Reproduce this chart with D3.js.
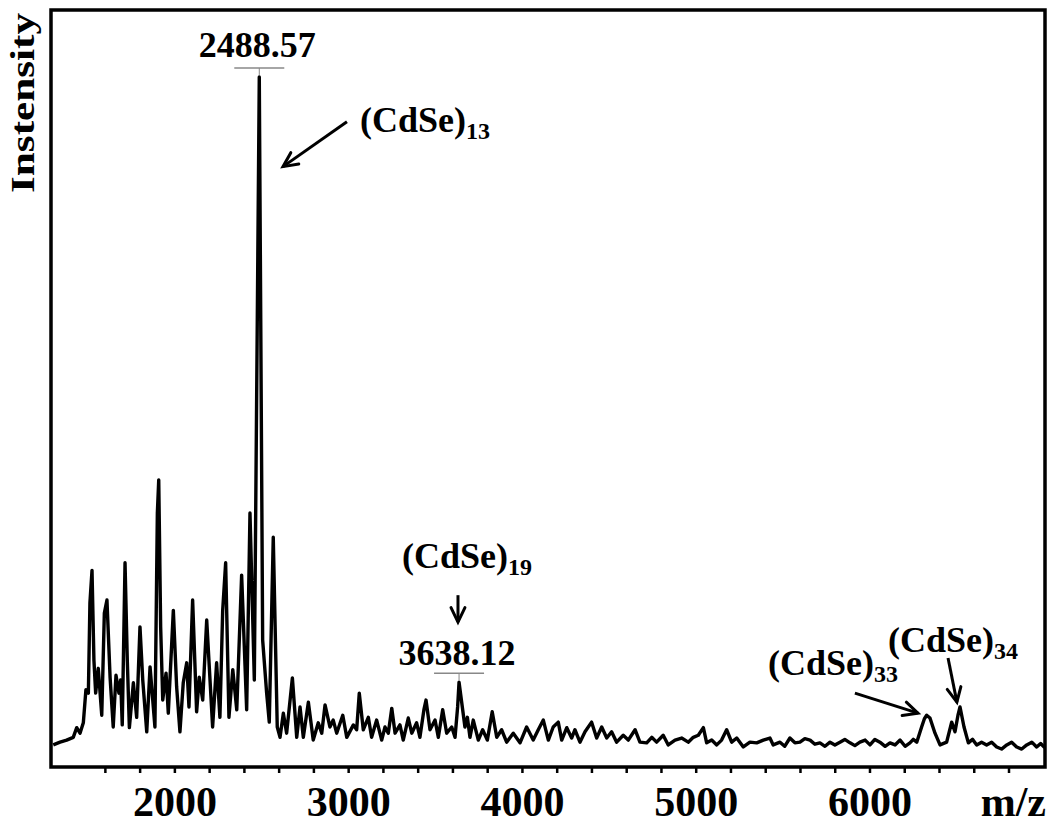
<!DOCTYPE html>
<html>
<head>
<meta charset="utf-8">
<script src="https://cdn.jsdelivr.net/npm/d3@7"></script>
<style>
  body { margin: 0; background: #fff; }
  svg { display: block; font-family: "Liberation Serif", "Times New Roman", serif; font-weight: bold; }
</style>
</head>
<body>
<svg id="chart" width="1050" height="824"></svg>
<script>
// m/z values
const mzValues = [
  1303, 1342, 1380, 1418, 1438, 1457, 1476, 1491, 1505, 1514, 1526, 1537, 1547, 1562, 1582, 1597,
  1612, 1630, 1648, 1664, 1681, 1691, 1700, 1716, 1729, 1741, 1764, 1783, 1802, 1818, 1841, 1860,
  1888, 1902, 1910, 1921, 1933, 1952, 1965, 1994, 2013, 2032, 2051, 2071, 2084, 2105, 2128, 2143,
  2163, 2186, 2220, 2243, 2262, 2278, 2295, 2314, 2336, 2359, 2387, 2416, 2435, 2460, 2488.57, 2508,
  2531, 2546, 2569, 2592, 2608, 2627, 2646, 2679, 2704, 2723, 2742, 2771, 2799, 2828, 2848, 2867,
  2895, 2914, 2934, 2969, 2992, 3030, 3049, 3064, 3087, 3116, 3135, 3164, 3193, 3212, 3231, 3251,
  3270, 3298, 3317, 3346, 3366, 3394, 3413, 3436, 3448, 3471, 3500, 3519, 3544, 3567, 3596, 3615,
  3630, 3638.12, 3659, 3672, 3686, 3701, 3720, 3749, 3774, 3801, 3829, 3855, 3883, 3912, 3950, 3989,
  4027, 4065, 4094, 4123, 4152, 4180, 4209, 4229, 4258, 4286, 4305, 4334, 4363, 4401, 4430, 4459,
  4488, 4516, 4545, 4583, 4612, 4651, 4679, 4718, 4747, 4775, 4813, 4842, 4881, 4919, 4957, 4986,
  5015, 5044, 5063, 5092, 5121, 5149, 5178, 5207, 5236, 5274, 5312, 5351, 5389, 5427, 5446, 5485,
  5512, 5542, 5571, 5600, 5628, 5658, 5686, 5715, 5744, 5773, 5801, 5830, 5858, 5888, 5916, 5945,
  5975, 6003, 6031, 6060, 6090, 6118, 6147, 6176, 6205, 6233, 6252, 6272, 6300, 6316, 6329, 6348, 6377,
  6406, 6444, 6473, 6492, 6510, 6521, 6544, 6569, 6593, 6617, 6645, 6674, 6703, 6732, 6760, 6790, 6818,
  6847, 6876, 6905, 6934, 6962, 6985, 7008
];
// relative intensity (%), main peak = 100
const intensityValues = [
  3.2, 3.6, 3.9, 4.3, 5.7, 4.9, 6.4, 11.2, 10.7, 23.8, 28.5, 15.5, 10.7, 14.3, 7.5, 22.3,
  24.2, 13.0, 5.8, 13.3, 10.7, 12.6, 6.1, 29.6, 15.5, 5.7, 12.2, 7.2, 20.3, 12.6, 5.1, 14.5,
  5.8, 36.8, 41.6, 20.3, 9.7, 13.6, 7.8, 22.7, 11.6, 5.1, 12.2, 15.1, 8.7, 24.2, 8.0, 13.0,
  9.7, 21.3, 5.8, 15.1, 7.2, 22.7, 29.6, 7.2, 14.1, 8.3, 27.8, 8.3, 36.8, 12.6, 100, 18.4,
  10.7, 6.5, 33.3, 5.8, 4.3, 7.8, 4.9, 12.9, 4.3, 8.7, 4.3, 9.4, 3.9, 6.4, 4.9, 9.0,
  5.8, 6.8, 4.9, 7.5, 4.3, 6.1, 5.4, 10.7, 5.4, 7.2, 4.3, 6.8, 3.9, 5.8, 4.9, 8.5,
  4.9, 6.1, 3.9, 7.1, 4.9, 6.4, 4.3, 8.3, 9.7, 5.4, 6.8, 4.3, 8.3, 4.9, 5.8, 4.3,
  8.7, 12.3, 8.3, 5.8, 7.2, 4.3, 6.8, 3.9, 5.4, 3.9, 8.0, 4.3, 5.4, 3.6, 4.9, 3.5,
  5.8, 3.9, 5.4, 6.8, 3.9, 5.8, 6.5, 3.9, 5.7, 4.2, 5.4, 3.6, 5.1, 6.5, 4.2, 5.8,
  4.2, 5.1, 3.6, 4.6, 3.9, 5.4, 3.6, 3.5, 4.3, 3.6, 4.6, 3.2, 3.9, 4.2, 3.6, 4.3,
  4.6, 5.7, 3.5, 3.9, 3.2, 3.9, 5.4, 3.6, 4.2, 2.9, 3.6, 3.5, 3.9, 4.2, 3.2, 3.6,
  3.0, 4.2, 3.5, 3.6, 4.1, 3.9, 3.3, 3.5, 3.0, 3.6, 3.2, 3.6, 4.0, 3.5, 3.1, 3.6,
  3.9, 3.2, 4.0, 3.6, 3.0, 3.5, 3.2, 3.9, 3.0, 3.5, 4.0, 3.6, 5.8, 7.0, 7.5, 7.1, 4.9,
  3.2, 3.6, 6.5, 5.1, 7.6, 8.7, 5.8, 3.5, 4.0, 3.2, 3.6, 3.2, 3.6, 2.9, 2.6, 3.2, 3.6,
  2.9, 2.6, 3.2, 3.6, 2.9, 3.4, 2.8
];

const majorTicks = [2000, 3000, 4000, 5000, 6000];
const minorTicks = [1600, 1800, 2000, 2200, 2400, 2600, 2800, 3000, 3200, 3400, 3600, 3800,
  4000, 4200, 4400, 4600, 4800, 5000, 5200, 5400, 5600, 5800, 6000, 6200, 6400, 6600, 6800];

// labelled peaks: mass, label
const peakMz = [2488.57, 3638.12];
const peakText = ["2488.57", "3638.12"];

const margin = {left: 51, right: 5, top: 10, bottom: 57};
const width = 1050, height = 824;

const svg = d3.select("#chart");

const x = d3.scaleLinear().domain([1290, 7010]).range([margin.left, width - margin.right]);
const y = d3.scaleLinear().domain([0, 109.7]).range([height - margin.bottom, margin.top]);

const data = mzValues.map((d, i) => ({mz: d, v: intensityValues[i]}));

// clip for the spectrum
svg.append("clipPath").attr("id", "plot-clip")
  .append("rect")
  .attr("x", margin.left).attr("y", margin.top)
  .attr("width", width - margin.left - margin.right)
  .attr("height", height - margin.top - margin.bottom);

const line = d3.line().x(d => x(d.mz)).y(d => y(d.v));

svg.append("path")
  .datum(data)
  .attr("clip-path", "url(#plot-clip)")
  .attr("fill", "none")
  .attr("stroke", "#000")
  .attr("stroke-width", 3.4)
  .attr("stroke-linejoin", "round")
  .attr("d", line);

// x axis
const xAxis = d3.axisBottom(x)
  .tickValues(minorTicks)
  .tickSize(6)
  .tickFormat(d => majorTicks.includes(d) ? d : "");

const gx = svg.append("g")
  .attr("transform", `translate(0,${height - margin.bottom})`)
  .call(xAxis);
gx.select(".domain").remove();
gx.selectAll(".tick line").attr("stroke", "#000").attr("stroke-width", 2.5);
gx.selectAll(".tick text")
  .attr("y", 49).attr("dy", 0)
  .attr("fill", "#000")
  .style("font-family", "'Liberation Serif', 'Times New Roman', serif")
  .style("font-weight", "bold")
  .style("font-size", "42px");

// frame
svg.append("rect")
  .attr("x", margin.left).attr("y", margin.top)
  .attr("width", width - margin.left - margin.right)
  .attr("height", height - margin.top - margin.bottom)
  .attr("fill", "none")
  .attr("stroke", "#000")
  .attr("stroke-width", 3.5);

// axis titles
svg.append("text")
  .attr("transform", "translate(34,103) rotate(-90)")
  .attr("text-anchor", "middle")
  .attr("font-size", 34)
  .attr("textLength", 180)
  .attr("lengthAdjust", "spacingAndGlyphs")
  .text("Instensity");

svg.append("text")
  .attr("x", 1046).attr("y", 816)
  .attr("text-anchor", "end")
  .attr("font-size", 42)
  .text("m/z");

// peak mass labels with the grey bracket
const peakLabelV = [102.9, 14.8];
const peakBarV = [101.3, 13.6];
const peakTopV = [100, 12.3];

peakMz.forEach((m, i) => {
  const cx = x(m);
  svg.append("line")
    .attr("x1", cx - 25).attr("x2", cx + 25)
    .attr("y1", y(peakBarV[i])).attr("y2", y(peakBarV[i]))
    .attr("stroke", "#888").attr("stroke-width", 1.5);
  svg.append("line")
    .attr("x1", cx).attr("x2", cx)
    .attr("y1", y(peakBarV[i])).attr("y2", y(peakTopV[i]) - 2)
    .attr("stroke", "#888").attr("stroke-width", 1);
  svg.append("text")
    .attr("x", cx - 2).attr("y", y(peakLabelV[i]))
    .attr("text-anchor", "middle")
    .attr("font-size", 36)
    .text(peakText[i]);
});

// cluster labels (CdSe)n
const clusterN = ["13", "19", "33", "34"];
const clusterMz = [3068, 3310, 5416, 6106];
const clusterV = [92.0, 28.8, 13.3, 16.7];

clusterN.forEach((n, i) => {
  const t = svg.append("text")
    .attr("x", x(clusterMz[i])).attr("y", y(clusterV[i]))
    .attr("font-size", 36);
  t.append("tspan").text("(CdSe)");
  t.append("tspan").attr("font-size", 24).attr("dy", 7).text(n);
});

// arrows: [fromMz, fromV, toMz, toV]
const arrows = [
  [2993, 93.5, 2625, 87.0],
  [3632, 24.9, 3632, 21.0],
  [5916, 10.7, 6279, 7.8],
  [6452, 15.8, 6503, 9.4]
];

arrows.forEach(a => {
  const x1 = x(a[0]), y1 = y(a[1]), x2 = x(a[2]), y2 = y(a[3]);
  const ang = Math.atan2(y2 - y1, x2 - x1);
  const hl = 16, spread = 0.45;
  svg.append("line")
    .attr("x1", x1).attr("y1", y1).attr("x2", x2).attr("y2", y2)
    .attr("stroke", "#000").attr("stroke-width", 3);
  svg.append("path")
    .attr("d", `M${x2 - hl * Math.cos(ang - spread)},${y2 - hl * Math.sin(ang - spread)}` +
      `L${x2},${y2}L${x2 - hl * Math.cos(ang + spread)},${y2 - hl * Math.sin(ang + spread)}`)
    .attr("fill", "none")
    .attr("stroke", "#000")
    .attr("stroke-width", 3)
    .attr("stroke-linecap", "round")
    .attr("stroke-linejoin", "miter");
});
</script>
</body>
</html>
